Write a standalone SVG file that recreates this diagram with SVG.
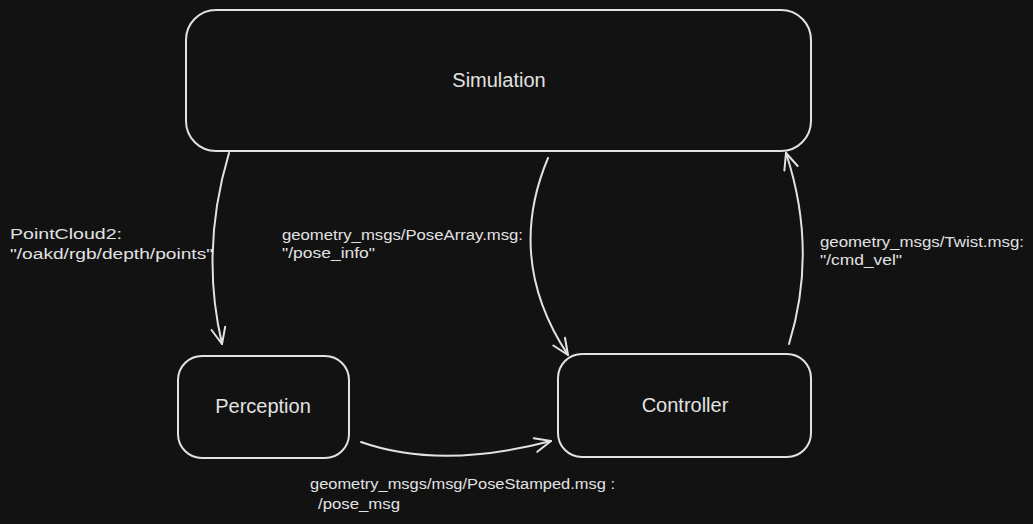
<svg xmlns="http://www.w3.org/2000/svg" width="1033" height="524" viewBox="0 0 1033 524">
<style>
.node{fill:#121212;stroke:#e2e2e2;stroke-width:2}
.lbl{font-family:"Liberation Sans",sans-serif;font-size:20px;fill:#e2e2e2;text-anchor:middle}
.edge{fill:none;stroke:#e2e2e2;stroke-width:2;stroke-linecap:round}
.etxt{font-family:"Liberation Sans",sans-serif;font-size:14px;fill:#e2e2e2}
</style>
<defs>
<marker id="arr" viewBox="0 0 20 20" refX="18" refY="10" markerWidth="20" markerHeight="20" markerUnits="userSpaceOnUse" orient="auto">
<path d="M2,3 L18,10 L2,17" fill="none" stroke="#e2e2e2" stroke-width="2" stroke-linecap="round" stroke-linejoin="round"/>
</marker>
</defs>
<rect width="1033" height="524" fill="#121212"/>
<g id="simulation">
<rect class="node" x="186" y="10" width="625" height="141" rx="30"/>
<text class="lbl" x="499" y="87">Simulation</text>
</g>
<g id="perception">
<rect class="node" x="178" y="356" width="171" height="102" rx="24"/>
<text class="lbl" x="263" y="413">Perception</text>
</g>
<g id="controller">
<rect class="node" x="558" y="354" width="253" height="103" rx="24"/>
<text class="lbl" x="685" y="412">Controller</text>
</g>
<g id="connectors">
<path class="edge" d="M229,153 Q200,250 222,344" marker-end="url(#arr)"/>
<path class="edge" d="M548,158 Q505,260 568,355" marker-end="url(#arr)"/>
<path class="edge" d="M789,344 Q818,250 786,153" marker-end="url(#arr)"/>
<path class="edge" d="M361,442 Q440,470 551,441" marker-end="url(#arr)"/>
<text class="etxt" x="10" y="239" textLength="112" lengthAdjust="spacingAndGlyphs">PointCloud2:</text>
<text class="etxt" x="10" y="259" textLength="203" lengthAdjust="spacingAndGlyphs">"/oakd/rgb/depth/points"</text>
<text class="etxt" x="282" y="240" textLength="241" lengthAdjust="spacingAndGlyphs">geometry_msgs/PoseArray.msg:</text>
<text class="etxt" x="282" y="258" textLength="93" lengthAdjust="spacingAndGlyphs">"/pose_info"</text>
<text class="etxt" x="820" y="247" textLength="204" lengthAdjust="spacingAndGlyphs">geometry_msgs/Twist.msg:</text>
<text class="etxt" x="820" y="265" textLength="82" lengthAdjust="spacingAndGlyphs">"/cmd_vel"</text>
<text class="etxt" x="310" y="489" textLength="305" lengthAdjust="spacingAndGlyphs">geometry_msgs/msg/PoseStamped.msg :</text>
<text class="etxt" x="318" y="509" textLength="82" lengthAdjust="spacingAndGlyphs">/pose_msg</text>
</g>
</svg>
